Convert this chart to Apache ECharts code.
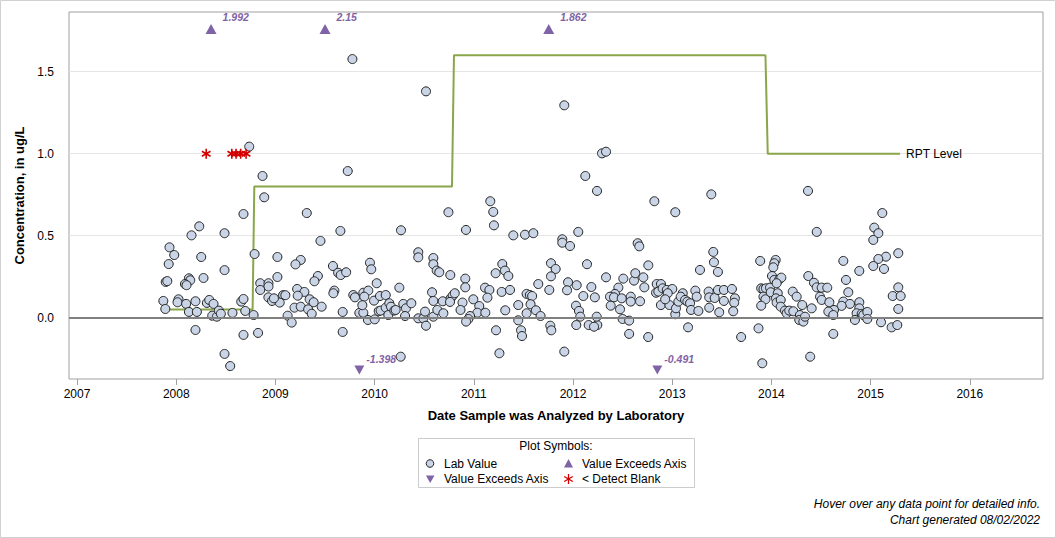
<!DOCTYPE html>
<html><head><meta charset="utf-8">
<script src="https://cdn.jsdelivr.net/npm/echarts@6/dist/echarts.min.js"></script>
<style>html,body{margin:0;padding:0;background:#fff}#c{width:1056px;height:538px}</style>
</head><body><div id="c"></div>
<script>
// ---- data (x = decimal year, y = concentration ug/L) ----
const xTicks = [2007,2008,2009,2010,2011,2012,2013,2014,2015,2016];
const yTicks = [0,0.5,1.0,1.5];
const labPoints = [
[2008.736,1.043],[2009.729,0.894],[2008.87,0.864],[2008.887,0.734],[2009.316,0.638],[2008.678,0.632],[2008.232,0.557],[2008.487,0.515],[2008.154,0.502],[2009.655,0.529],[2009.454,0.468],[2007.932,0.429],[2007.98,0.382],[2007.924,0.327],[2008.79,0.388],[2008.252,0.37],[2009.02,0.37],[2008.487,0.29],[2009.255,0.352],[2009.202,0.325],[2009.58,0.315],[2009.953,0.335],[2009.966,0.295],[2009.428,0.254],[2009.393,0.222],[2009.02,0.248],[2008.275,0.242],[2008.128,0.24],[2008.141,0.228],[2008.088,0.205],[2008.104,0.198],[2007.894,0.218],[2007.91,0.223],[2009.632,0.274],[2009.658,0.26],[2009.713,0.277],[2008.847,0.21],[2008.93,0.21],[2008.93,0.19],[2008.847,0.169],[2009.219,0.175],[2009.292,0.157],[2009.225,0.134],[2009.594,0.165],[2009.584,0.149],[2010.021,0.21],[2009.886,0.152],[2009.936,0.165],[2009.896,0.128],[2009.785,0.138],[2009.802,0.124],[2009.077,0.137],[2009.1,0.137],[2008.929,0.124],[2008.966,0.102],[2009.043,0.092],[2008.985,0.118],[2009.345,0.112],[2009.385,0.094],[2009.466,0.067],[2009.192,0.061],[2009.255,0.067],[2009.33,0.051],[2009.366,0.024],[2007.87,0.102],[2007.89,0.053],[2008.023,0.112],[2008.013,0.094],[2008.1,0.084],[2008.194,0.1],[2008.309,0.09],[2008.333,0.108],[2008.376,0.084],[2008.128,0.035],[2008.208,0.035],[2008.363,0.012],[2008.41,0.006],[2008.43,0.043],[2008.45,0.024],[2008.567,0.029],[2008.655,0.098],[2008.678,0.114],[2008.696,0.041],[2008.78,0.016],[2009.123,0.012],[2009.164,-0.03],[2009.678,0.035],[2009.678,-0.087],[2009.846,0.029],[2009.886,0.03],[2009.876,0.076],[2009.933,-0.014],[2010.001,-0.01],[2009.994,0.104],[2010.041,0.04],[2008.194,-0.075],[2008.678,-0.105],[2008.825,-0.093],[2008.487,-0.221],[2008.544,-0.295],[2009.776,1.577],[2010.518,1.38],[2011.912,1.295],
[2012.124,0.864],[2012.242,0.773],[2011.166,0.71],[2010.744,0.643],[2011.196,0.645],[2011.203,0.563],[2010.266,0.533],[2010.921,0.535],[2011.398,0.502],[2011.516,0.506],[2011.6,0.515],[2011.892,0.478],[2011.892,0.457],[2011.97,0.437],[2012.053,0.523],[2010.44,0.399],[2010.44,0.368],[2010.592,0.364],[2010.592,0.326],[2010.626,0.287],[2010.652,0.277],[2010.763,0.26],[2010.914,0.238],[2010.914,0.185],[2011.287,0.327],[2011.22,0.271],[2011.314,0.287],[2011.348,0.254],[2011.778,0.332],[2011.825,0.297],[2011.778,0.252],[2012.141,0.326],[2011.95,0.216],[2012.037,0.198],[2011.94,0.167],[2012.185,0.187],[2012.104,0.132],[2010.249,0.183],[2011.113,0.183],[2011.157,0.169],[2011.137,0.122],[2011.281,0.157],[2011.365,0.169],[2011.65,0.205],[2011.761,0.169],[2010.579,0.155],[2010.592,0.102],[2010.687,0.1],[2010.767,0.118],[2010.787,0.134],[2010.808,0.149],[2010.76,0.096],[2010.886,0.092],[2010.866,0.047],[2010.995,0.112],[2011.055,0.071],[2011.035,0.03],[2011.116,0.03],[2010.962,0.01],[2010.945,-0.008],[2010.922,-0.024],[2011.532,0.145],[2011.565,0.138],[2011.588,0.132],[2011.572,0.082],[2011.626,0.045],[2011.673,0.01],[2011.448,0.077],[2011.448,-0.016],[2011.317,0.045],[2011.532,0.027],[2011.224,-0.077],[2011.476,-0.077],[2011.486,-0.112],[2011.771,-0.049],[2011.781,-0.077],[2011.258,-0.217],[2011.912,-0.207],[2012.03,0.073],[2012.06,0.041],[2012.073,0.006],[2012.033,-0.045],[2012.158,-0.045],[2012.245,-0.045],[2012.239,0.006],[2012.212,-0.055],[2012.22,0.124],[2010.054,0.132],[2010.112,0.138],[2010.061,0.043],[2010.112,0.061],[2010.138,0.016],[2010.148,0.088],[2010.165,0.067],[2010.198,0.043],[2010.212,0.047],[2010.289,0.084],[2010.316,0.057],[2010.37,0.088],[2010.307,0.01],[2010.44,-0.004],[2010.491,-0.004],[2010.508,0.037],[2010.518,-0.049],[2010.592,0.006],[2010.632,0.047],[2010.693,0.027],[2010.263,-0.238],
[2012.292,1.002],[2012.333,1.012],[2012.82,0.71],[2013.031,0.643],[2013.394,0.752],[2014.369,0.773],[2014.457,0.523],[2012.652,0.454],[2012.668,0.435],[2012.759,0.319],[2012.333,0.246],[2012.507,0.238],[2012.615,0.226],[2012.628,0.271],[2012.709,0.246],[2012.719,0.185],[2012.457,0.183],[2012.423,0.145],[2012.373,0.128],[2012.413,0.124],[2012.38,0.073],[2012.474,0.051],[2012.491,0.118],[2012.582,0.128],[2012.582,0.098],[2012.676,0.1],[2012.5,-0.008],[2012.566,-0.018],[2012.566,-0.099],[2012.758,-0.118],[2012.844,0.205],[2012.887,0.205],[2012.837,0.152],[2012.86,0.159],[2012.904,0.179],[2012.945,0.169],[2013.001,0.175],[2012.955,0.149],[2012.886,0.077],[2012.972,0.077],[2012.929,0.112],[2013.031,0.021],[2013.038,0.057],[2013.062,0.098],[2013.106,0.149],[2013.086,0.128],[2013.13,0.108],[2013.153,0.098],[2013.18,0.088],[2013.19,0.047],[2013.264,0.041],[2013.233,0.165],[2013.247,0.128],[2013.28,0.291],[2013.414,0.401],[2013.421,0.338],[2013.461,0.279],[2013.367,0.159],[2013.373,0.124],[2013.428,0.12],[2013.461,0.169],[2013.521,0.169],[2013.602,0.175],[2013.521,0.102],[2013.632,0.118],[2013.625,0.091],[2013.373,0.061],[2013.474,0.033],[2013.615,0.039],[2013.16,-0.059],[2013.695,-0.118],[2013.87,-0.065],[2013.887,0.346],[2013.897,0.179],[2013.92,0.175],[2013.945,0.179],[2013.986,0.183],[2013.92,0.128],[2013.94,0.112],[2013.897,0.073],[2014.043,0.352],[2014.029,0.332],[2014.019,0.307],[2014.006,0.254],[2014.029,0.23],[2014.08,0.234],[2014.1,0.244],[2014.053,0.21],[2013.993,0.155],[2014.064,0.149],[2014.046,0.118],[2014.053,0.092],[2014.094,0.108],[2014.094,0.067],[2014.137,0.043],[2014.154,0.027],[2014.18,0.043],[2014.221,0.039],[2014.215,0.159],[2014.255,0.128],[2014.311,0.077],[2014.372,0.254],[2014.429,0.213],[2014.457,0.185],[2014.49,0.128],[2014.406,0.057],[2014.288,0.016],[2014.281,-0.014],[2014.322,-0.024],[2014.339,0.006],[2014.391,-0.238],[2013.908,-0.278],
[2015.118,0.638],[2015.037,0.549],[2015.078,0.515],[2015.027,0.474],[2015.279,0.393],[2015.155,0.372],[2015.078,0.358],[2015.027,0.315],[2015.135,0.297],[2014.725,0.346],[2014.886,0.285],[2014.752,0.23],[2014.775,0.155],[2014.725,0.098],[2014.792,0.084],[2014.708,0.072],[2014.886,0.094],[2014.886,0.057],[2014.859,0.027],[2014.91,0.023],[2014.926,0.016],[2014.967,0.035],[2014.967,-0.008],[2014.842,-0.014],[2014.507,0.183],[2014.563,0.183],[2014.507,0.108],[2014.584,0.094],[2014.631,0.047],[2014.574,0.037],[2014.624,0.016],[2014.624,-0.099],[2015.105,-0.028],[2015.212,-0.059],[2015.269,-0.045],[2015.279,0.185],[2015.223,0.132],[2015.303,0.132],[2015.279,0.053]
];
const rptYears  = [2007.937,2008.77,2008.787,2010.78,2010.80,2013.94,2013.963,2015.297];
const rptLevels = [0.05,0.05,0.8,0.8,1.6,1.6,1.0,1.0];
const detectBlankYears = [2008.302,2008.56,2008.603,2008.65,2008.704];
const detectBlankValue = 1.0;
const aboveYears  = [2008.351,2009.50,2011.755];
const aboveValues = ['1.992','2.15','1.862'];
const belowYears  = [2009.846,2012.85];
const belowValues = ['-1.398','-0.491'];
const yMin = -0.374, yMax = 1.864;
const xMin = 2006.919, xMax = 2016.738;
const abovePlotY = 1.76, belowPlotY = -0.319;

// ---- chart ----
const FF = 'Arial, "Liberation Sans", sans-serif';
const PURPLE = '#7f63a6';
const chart = echarts.init(document.getElementById('c'), null, {renderer:'svg'});
const astPath = 'path://M5,0L5,10M0.67,2.5L9.33,7.5M0.67,7.5L9.33,2.5';
const option = {
  animation:false,
  backgroundColor:'#ffffff',
  textStyle:{fontFamily:FF},
  grid:{left:69,top:12,right:13,bottom:159,show:true,borderColor:'#a0a0a0',borderWidth:1,backgroundColor:'transparent'},
  xAxis:{
    type:'value',min:xMin,max:xMax,
    axisLine:{show:false,onZero:false},
    axisTick:{show:true,customValues:xTicks,length:6,lineStyle:{color:'#a0a0a0',width:1}},
    axisLabel:{customValues:xTicks,formatter:v=>String(Math.round(v)),color:'#000',fontSize:12,margin:9,fontFamily:FF},
    splitLine:{show:false},
    name:'Date Sample was Analyzed by Laboratory',nameLocation:'middle',nameGap:30,
    nameTextStyle:{fontWeight:'bold',fontSize:13,color:'#000',fontFamily:FF}
  },
  yAxis:{
    type:'value',min:yMin,max:yMax,
    axisLine:{show:false,onZero:false},
    axisTick:{show:false,customValues:yTicks},
    axisLabel:{customValues:yTicks,formatter:v=>v.toFixed(1),color:'#000',fontSize:12,margin:15,fontFamily:FF},
    splitLine:{show:true,lineStyle:{color:'#e6e6e6',width:1}},
    name:'Concentration, in ug/L',nameLocation:'middle',nameGap:43,nameRotate:90,
    nameTextStyle:{fontWeight:'bold',fontSize:13,color:'#000',fontFamily:FF}
  },
  series:[
    {
      type:'line',z:2,symbol:'none',
      data:rptYears.map((x,i)=>[x,rptLevels[i]]),
      lineStyle:{color:'#8aa64b',width:2},
      endLabel:{show:true,formatter:'RPT Level',color:'#000',fontSize:12,distance:6,fontFamily:FF},
      markLine:{silent:true,symbol:['none','none'],label:{show:false},
        lineStyle:{color:'#808080',width:2,type:'solid'},data:[{yAxis:0}]}
    },
    {
      type:'scatter',z:3,symbol:'circle',symbolSize:9,
      data:labPoints,
      itemStyle:{color:'#c9d5e6',borderColor:'#222222',borderWidth:1,opacity:1}
    },
    {
      type:'scatter',z:4,symbol:astPath,symbolSize:10,symbolKeepAspect:true,
      data:detectBlankYears.map(x=>[x,detectBlankValue]),
      itemStyle:{color:'transparent',borderColor:'#d40000',borderWidth:1.6,opacity:1}
    },
    {
      type:'scatter',z:4,symbol:'triangle',symbolSize:[11,10],
      data:aboveYears.map((x,i)=>({value:[x,abovePlotY],name:aboveValues[i]})),
      itemStyle:{color:PURPLE,opacity:1},
      label:{show:true,formatter:'{b}',position:'right',distance:5,offset:[1,-12],
        color:PURPLE,fontSize:10.5,fontWeight:'bold',fontStyle:'italic',fontFamily:FF}
    },
    {
      type:'scatter',z:4,symbol:'triangle',symbolRotate:180,symbolSize:[10,9],
      data:belowYears.map((x,i)=>({value:[x,belowPlotY],name:belowValues[i]})),
      itemStyle:{color:PURPLE,opacity:1},
      label:{show:true,formatter:'{b}',position:'right',distance:5,offset:[-3,-11],
        color:PURPLE,fontSize:10.5,fontWeight:'bold',fontStyle:'italic',fontFamily:FF}
    }
  ],
  graphic:[
    {type:'rect',silent:true,z:-1,shape:{x:0.5,y:0.5,width:1055,height:537},style:{fill:'none',stroke:'#d0d0d0',lineWidth:1}},
    {type:'rect',silent:true,shape:{x:418.5,y:438.5,width:276,height:49},style:{fill:'#fff',stroke:'#cccccc',lineWidth:1}},
    {type:'text',silent:true,x:556,y:446,style:{text:'Plot Symbols:',font:'12px '+FF,fill:'#000',align:'center',verticalAlign:'middle'}},
    {type:'circle',silent:true,shape:{cx:430,cy:463.5,r:3.8},style:{fill:'#c9d5e6',stroke:'#222',lineWidth:1}},
    {type:'text',silent:true,x:444,y:463.5,style:{text:'Lab Value',font:'12px '+FF,fill:'#000',align:'left',verticalAlign:'middle'}},
    {type:'polygon',silent:true,shape:{points:[[564,467.5],[573,467.5],[568.5,459]]},style:{fill:PURPLE}},
    {type:'text',silent:true,x:582,y:463.5,style:{text:'Value Exceeds Axis',font:'12px '+FF,fill:'#000',align:'left',verticalAlign:'middle'}},
    {type:'polygon',silent:true,shape:{points:[[426,475.5],[434.5,475.5],[430.2,483]]},style:{fill:PURPLE}},
    {type:'text',silent:true,x:444,y:479,style:{text:'Value Exceeds Axis',font:'12px '+FF,fill:'#000',align:'left',verticalAlign:'middle'}},
    {type:'line',silent:true,shape:{x1:568.5,y1:474,x2:568.5,y2:484},style:{stroke:'#d40000',lineWidth:1.3}},
    {type:'line',silent:true,shape:{x1:564.2,y1:476.5,x2:572.8,y2:481.5},style:{stroke:'#d40000',lineWidth:1.3}},
    {type:'line',silent:true,shape:{x1:564.2,y1:481.5,x2:572.8,y2:476.5},style:{stroke:'#d40000',lineWidth:1.3}},
    {type:'text',silent:true,x:582,y:479,style:{text:'< Detect Blank',font:'12px '+FF,fill:'#000',align:'left',verticalAlign:'middle'}},
    {type:'text',silent:true,x:1040,y:504,style:{text:'Hover over any data point for detailed info.',font:'italic 12px '+FF,fill:'#000',align:'right',verticalAlign:'middle'}},
    {type:'text',silent:true,x:1040,y:520,style:{text:'Chart generated 08/02/2022',font:'italic 12px '+FF,fill:'#000',align:'right',verticalAlign:'middle'}}
  ]
};
chart.setOption(option);
</script>
</body></html>
